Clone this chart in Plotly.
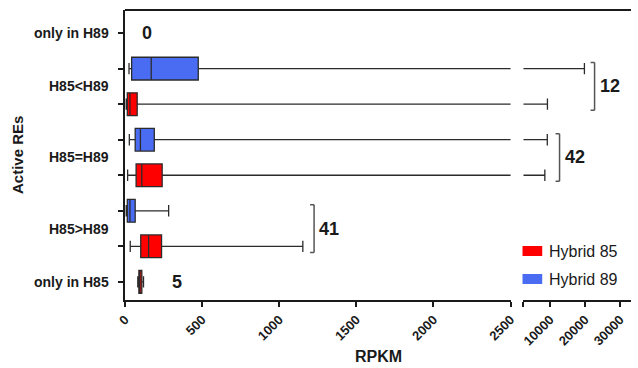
import plotly.graph_objects as go

# Groups of active regulatory elements, top to bottom
categories = ["only in H89", "H85<H89", "H85=H89", "H85>H89", "only in H85"]
counts = [0, 12, 42, 41, 5]

# Five-number summaries (RPKM): lower fence, Q1, median, Q3, upper fence
# None where the group has no elements for that hybrid
h89_stats = [
    None,
    [26, 43, 170, 475, 19800],
    [28, 66, 100, 190, 9200],
    [8, 15, 32, 66, 283],
    None,
]
h85_stats = [
    None,
    [8, 15, 32, 79, 9240],
    [17, 72, 109, 241, 8500],
    [34, 102, 153, 237, 1153],
    [83, 90, 96, 109, 120],
]

series = [
    ("Hybrid 85", h85_stats, "#ff0000"),
    ("Hybrid 89", h89_stats, "#4a6cf2"),
]

left_ticks = [0, 500, 1000, 1500, 2000, 2500]
right_ticks = [10000, 20000, 30000]
left_range = [0, 2500]
right_range = [2400, 33100]

FONT = "Liberation Sans, Arial, sans-serif"
W, H = 638, 368
ML, MR, MT, MB = 125, 0, 10, 68
PW, PH = W - ML - MR, H - MT - MB


def px_to_paper(px, py):
    return (px - ML) / PW, (H - MB - py) / PH


# Row positions: each two-hybrid group takes two rows, single groups one
rows = {}
pos = 8
for i, cat in enumerate(categories):
    if h89_stats[i] is None or h85_stats[i] is None:
        rows[cat] = {"Hybrid 89": pos, "Hybrid 85": pos}
        pos -= 1
    else:
        rows[cat] = {"Hybrid 89": pos, "Hybrid 85": pos - 1}
        pos -= 2

fig = go.Figure()
for name, stats, color in series:
    for i, cat in enumerate(categories):
        s = stats[i]
        if s is None:
            continue
        y = rows[cat][name]
        for xa in ("x", "x2"):
            fig.add_trace(go.Box(
                orientation="h",
                y=[y], lowerfence=[s[0]], q1=[s[1]], median=[s[2]],
                q3=[s[3]], upperfence=[s[4]],
                width=0.64, whiskerwidth=0.5,
                fillcolor=color,
                line=dict(color="#2b2b2b", width=1.3),
                boxpoints=False, xaxis=xa, yaxis="y",
                showlegend=False, hoverinfo="skip", name=name,
            ))

tick_positions = sorted({v for r in rows.values() for v in r.values()})

axis_common = dict(
    showline=True, linecolor="#1a1a1a", linewidth=2,
    ticks="outside", ticklen=5, tickwidth=1.5, tickcolor="#1a1a1a",
    showgrid=False, zeroline=False, tickangle=-45,
    tickfont=dict(family=FONT, size=13, color="#1a1a1a", weight="bold"),
    anchor="y",
)

fig.update_layout(
    width=W, height=H,
    margin=dict(l=ML, r=MR, t=MT, b=MB),
    paper_bgcolor="white", plot_bgcolor="white",
    boxmode="overlay",
    showlegend=False,
    xaxis=dict(domain=[0, 0.762], range=left_range, tickvals=left_ticks,
               **axis_common),
    xaxis2=dict(domain=[0.7875, 1], range=right_range,
                tickvals=[right_range[0]] + right_ticks,
                ticktext=[""] + [str(t) for t in right_ticks],
                **axis_common),
    yaxis=dict(range=[0.49, 8.65], tickvals=tick_positions,
               ticktext=["" for _ in tick_positions],
               showline=True, linecolor="#1a1a1a", linewidth=2,
               ticks="outside", ticklen=5, tickwidth=1.5,
               tickcolor="#1a1a1a", showgrid=False, zeroline=False),
)

# Top frame line across both panels
fig.add_shape(type="line", xref="paper", yref="paper", x0=0, x1=1, y0=1, y1=1,
              line=dict(color="#1a1a1a", width=2))

# Category labels beside the y axis
for cat in categories:
    ys = list(rows[cat].values())
    fig.add_annotation(xref="paper", yref="y", x=0, y=sum(ys) / len(ys),
                       xanchor="right", yanchor="middle", xshift=-14,
                       text=cat, showarrow=False,
                       font=dict(family=FONT, size=14, color="#1a1a1a",
                                 weight="bold"))

# Counts: single groups get a plain number, paired groups a bracket
single_label_x = {"only in H89": 140, "only in H85": 340}
bracket_x = {"H85<H89": ("x2", 22700), "H85=H89": ("x2", 12700),
             "H85>H89": ("x", 1226)}
for cat, n in zip(categories, counts):
    ys = list(rows[cat].values())
    if cat in single_label_x:
        fig.add_annotation(xref="x", yref="y", x=single_label_x[cat], y=ys[0],
                           text=str(n), showarrow=False,
                           xanchor="center", yanchor="middle",
                           font=dict(family=FONT, size=18, color="#1a1a1a",
                                     weight="bold"))
        continue
    xr, bx = bracket_x[cat]
    top, bot = max(ys) + 0.17, min(ys) - 0.17
    line = dict(color="#555555", width=1.5)
    fig.add_shape(type="line", xref=xr, yref="y", x0=bx, x1=bx, y0=bot, y1=top,
                  line=line)
    for yy in (top, bot):
        fig.add_shape(type="line", xref=xr, yref="y", xsizemode="pixel",
                      xanchor=bx, x0=-4, x1=0, y0=yy, y1=yy, line=line)
    fig.add_annotation(xref=xr, yref="y", x=bx, y=sum(ys) / len(ys),
                       xanchor="left", yanchor="middle", xshift=3,
                       text=str(n), showarrow=False,
                       font=dict(family=FONT, size=18, color="#1a1a1a",
                                 weight="bold"))

# Legend
for k, (name, _, color) in enumerate(series):
    cy = 251 + k * 28
    x0, y0 = px_to_paper(528, cy - 5)
    x1, y1 = px_to_paper(548, cy + 5)
    fig.add_shape(type="rect", xref="paper", yref="paper",
                  x0=x0, x1=x1, y0=y0, y1=y1, fillcolor=color,
                  line=dict(width=0))
    tx, ty = px_to_paper(553, cy)
    fig.add_annotation(xref="paper", yref="paper", x=tx, y=ty,
                       xanchor="left", yanchor="middle", text=name,
                       showarrow=False,
                       font=dict(family=FONT, size=16, color="#1a1a1a"))

# Axis titles
fig.add_annotation(xref="paper", yref="paper", x=0.5, y=0, yshift=-56,
                   xanchor="center", yanchor="middle", text="RPKM",
                   showarrow=False,
                   font=dict(family=FONT, size=16, color="#1a1a1a",
                             weight="bold"))
fig.add_annotation(xref="paper", yref="paper", x=0, y=0.5, xshift=-108,
                   xanchor="center", yanchor="middle", text="Active REs",
                   textangle=-90, showarrow=False,
                   font=dict(family=FONT, size=15, color="#1a1a1a",
                             weight="bold"))

fig.write_html("out.html")
